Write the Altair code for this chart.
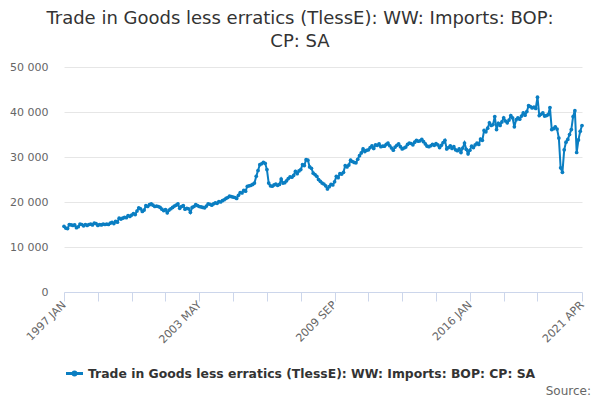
import altair as alt
import pandas as pd

title_lines = ["Trade in Goods less erratics (TlessE): WW: Imports: BOP:", "CP: SA"]
series_name = "Trade in Goods less erratics (TlessE): WW: Imports: BOP: CP: SA"
source_text = "Source:"

start_year = 1997
# monthly values, £ million (Jan..Dec per row)
imports = [
    14600, 14200, 14100, 15000, 14900, 14800, 14900, 14300, 14500, 15100, 15000, 14700,  # 1997
    15000, 14800, 15000, 15100, 14900, 15300, 15200, 14800, 15000, 14900, 15100, 15000,  # 1998
    15100, 15000, 15300, 15500, 15200, 15700, 15500, 16400, 16200, 16400, 16600, 16500,  # 1999
    17000, 16800, 17100, 17400, 17200, 18000, 18700, 18500, 17900, 18200, 19200, 19000,  # 2000
    19400, 19600, 19300, 19000, 19100, 19000, 18800, 18400, 18100, 18300, 17600, 18200,  # 2001
    18500, 18800, 19100, 19300, 19600, 18600, 19000, 19200, 18400, 18600, 18500, 17700,  # 2002
    18800, 19000, 19400, 19200, 19000, 18900, 18800, 18700, 19100, 19600, 19500, 19300,  # 2003
    19600, 19800, 19700, 20100, 20000, 20300, 20500, 20800, 21000, 21300, 21200, 21100,  # 2004
    21000, 20800, 21500, 22100, 22000, 22600, 22400, 23500, 23600, 23700, 23900, 24200,  # 2005
    25700, 27000, 28300, 28500, 28800, 28600, 27200, 24200, 23600, 23500, 23800, 24000,  # 2006
    23700, 23900, 25100, 24200, 24300, 24700, 25200, 25600, 25500, 25900, 26800, 26300,  # 2007
    26900, 27200, 28300, 28100, 29400, 29300, 27800, 27500, 26400, 26100, 25700, 25000,  # 2008
    24600, 24200, 24000, 23600, 22900, 23400, 23900, 23800, 24500, 25700, 25400, 26300,  # 2009
    26200, 26600, 28100, 27800, 28200, 29300, 29000, 28800, 28700, 29500, 30300, 30900,  # 2010
    31800, 31200, 31500, 31600, 32100, 32500, 31900, 32700, 32600, 32900, 32300, 32400,  # 2011
    32400, 32800, 33100, 32500, 32000, 31500, 32200, 32600, 32900, 32300, 31800, 32000,  # 2012
    32200, 32800, 33100, 33000, 32700, 33300, 33700, 33500, 33600, 33900, 33400, 32900,  # 2013
    32400, 32300, 32500, 32800, 32600, 33000, 32700, 32100, 32600, 33200, 33700, 31800,  # 2014
    32100, 32500, 31900, 32300, 31600, 31400, 31800, 31000, 32000, 33100, 31700, 30700,  # 2015
    31500, 32400, 32100, 32700, 33100, 32800, 34000, 33700, 35900, 35600, 36400, 37600,  # 2016
    37000, 37200, 39000, 36100, 37500, 37000, 37800, 38700, 38000, 37600, 38200, 39200,  # 2017
    38700, 36700, 38300, 38700, 38400, 39100, 39800, 39300, 40100, 41400, 41200, 40900,  # 2018
    41100, 40800, 43300, 39200, 39500, 39800, 39100, 39200, 39400, 41000, 36100, 36300,  # 2019
    36700, 36200, 34200, 27600, 26600, 31600, 33300, 33900, 35000, 36100, 39000, 40300,  # 2020
    31000, 33800, 35700, 37000,                                                          # 2021
]

month_names = ["JAN", "FEB", "MAR", "APR", "MAY", "JUN",
               "JUL", "AUG", "SEP", "OCT", "NOV", "DEC"]

tick_months = [0, 19, 38, 57, 76, 95, 114, 133, 152, 171, 190, 209, 228, 247, 266, 291]
label_months = [0, 76, 152, 228, 291]
y_ticks = [0, 10000, 20000, 30000, 40000, 50000]

df = pd.DataFrame({
    "m": range(len(imports)),
    "value": imports,
    "series": series_name,
})
df["period"] = [f"{start_year + i // 12} {month_names[i % 12]}" for i in df["m"]]

# label expression: only some ticks get text
expr = "''"
for m in reversed(label_months):
    lab = f"{start_year + m // 12} {month_names[m % 12]}"
    expr = f"datum.value == {m} ? '{lab}' : ({expr})"

blue = "#0a7ec2"
font = "DejaVu Sans"
W, H = 518, 225

legend_symbol = ("M-1,-0.1L1,-0.1L1,0.1L-1,0.1Z "
                 "M-0.28,0A0.28,0.28 0 1,0 0.28,0A0.28,0.28 0 1,0 -0.28,0Z")

line = alt.Chart(df).mark_line(
    strokeWidth=2,
    point=alt.OverlayMarkDef(filled=True, size=14, color=blue),
).encode(
    x=alt.X("m:Q", scale=alt.Scale(domain=[0, len(imports) - 1], nice=False, zero=False),
            axis=alt.Axis(values=tick_months, labelExpr=expr, title=None, grid=False,
                          domainColor="#ccd6eb", tickColor="#ccd6eb", tickSize=9,
                          labelAngle=-45, labelAlign="right", labelBaseline="middle",
                          labelPadding=2, labelColor="#666666", labelFontSize=11,
                          labelFont=font, labelOverlap=False, labelFlush=False)),
    y=alt.Y("value:Q", scale=alt.Scale(domain=[0, 50000], nice=False),
            axis=alt.Axis(values=y_ticks, title=None, domain=False, ticks=False,
                          gridColor="#e6e6e6", labelColor="#666666", labelFontSize=11,
                          labelFont=font, labelPadding=16,
                          labelExpr="replace(format(datum.value, ','), ',', ' ')")),
    color=alt.Color("series:N", scale=alt.Scale(range=[blue]),
                    legend=alt.Legend(title=None, orient="none", legendX=2, legendY=298,
                                      symbolType=legend_symbol, symbolSize=240,
                                      symbolStrokeWidth=1.5, symbolFillColor=blue,
                                      labelFont=font, labelFontSize=12.4, labelFontWeight="bold",
                                      labelColor="#333333", labelLimit=600, labelOffset=5)),
    tooltip=["period", "value"],
)

source = alt.Chart(pd.DataFrame({"t": [source_text]})).mark_text(
    align="right", baseline="middle", font=font, fontSize=12, color="#666666"
).encode(x=alt.value(W + 9), y=alt.value(H + 99), text="t:N")

chart = alt.layer(line, source).properties(
    width=W,
    height=H,
    padding={"left": 56, "top": 59, "right": 10, "bottom": 107},
    autosize=alt.AutoSizeParams(type="none"),
    title=alt.TitleParams(title_lines, anchor="middle", dx=-23, offset=10, font=font,
                          fontSize=18, fontWeight="normal", color="#333333", lineHeight=23),
).configure_view(stroke=None)

chart.save("out.html", embed_options={"renderer": "svg", "actions": False})
